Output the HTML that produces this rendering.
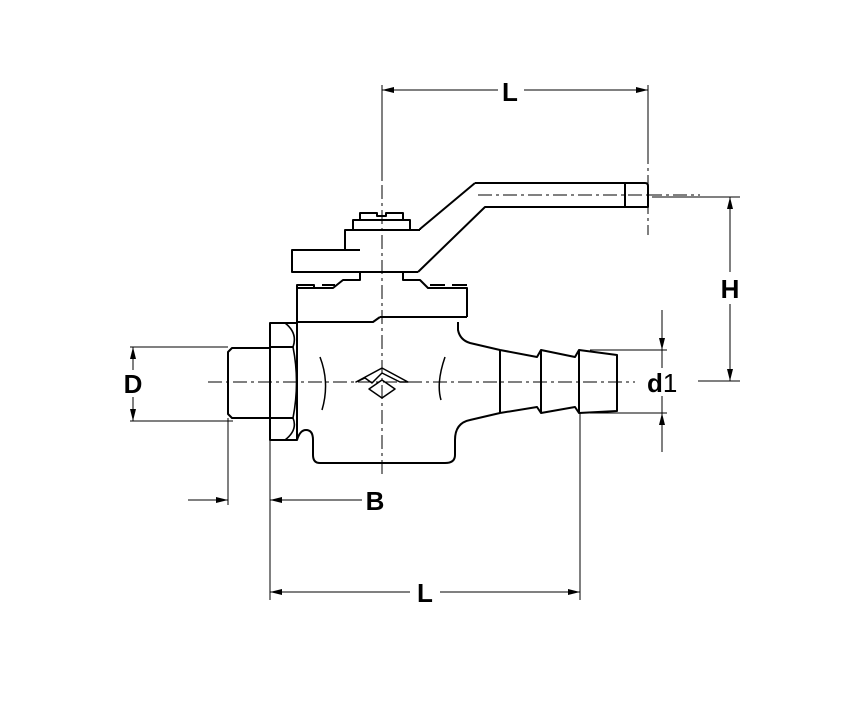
<!DOCTYPE html>
<html><head><style>
html,body{margin:0;padding:0;background:#fff;}
svg{display:block;}
text{font-family:"Liberation Sans",sans-serif;font-weight:bold;fill:#000;}
</style></head><body>
<svg width="850" height="702" viewBox="0 0 850 702" xmlns="http://www.w3.org/2000/svg">
<defs>
<marker id="a" markerWidth="12" markerHeight="6" refX="12" refY="3" orient="auto" markerUnits="userSpaceOnUse">
<path d="M0,0 L12,3 L0,6 Z" fill="#000"/></marker>
</defs>
<g fill="none" stroke="#000" stroke-width="2" stroke-linejoin="round">
<!-- handle -->
<path d="M475,183 L645,183 Q648,183 648,186 L648,207 L485,207 L418,272"/>
<path d="M475,183 L420,229 L420,230"/>
<line x1="625" y1="183" x2="625" y2="207"/>
<!-- stem top -->
<path d="M360,220 L360,213 L377,213 L377,216 L386,216 L386,213 L403,213 L403,220"/>
<path d="M353,230 L353,220 L410,220 L410,230"/>
<path d="M345,250 L345,230 L420,230"/>
<path d="M360,250 L292,250 L292,272 L418,272"/>
<path d="M360,272 L360,280 L343,280 L333,288 L297,288 L297,322"/>
<path d="M403,272 L403,280 L420,280 L428,288 L467,288 L467,317"/>
<path d="M297,288 L297,285 L314,285 L314,289 M322,285 L335,285 M430,285 L445,285 M452,285 L467,285"/>
<path d="M380,317 L467,317"/>
<!-- body -->
<path d="M297,322 L373,322 L380,317"/>
<path d="M458,322 L458,330 Q460,340 470,343 L500,350"/>
<path d="M500,413 L470,420 Q455,423 455,440 L455,455 Q455,463 445,463 L320,463 Q313,463 313,455 L313,440 Q313,430 306,430 Q300,430 297,440"/>
<line x1="297" y1="322" x2="297" y2="440"/>
<!-- hex -->
<rect x="270" y="323" width="27" height="117"/>
<path d="M270,347 L293,347 M270,418 L293,418"/>
<path d="M285,323 Q298,333 293,347 Q300,382 293,418 Q298,430 285,440" stroke-width="1.6"/>
<!-- left pipe -->
<path d="M270,348 L232,348 L228,352 L228,414 L232,418 L270,418"/>
<!-- barbs -->
<path d="M500,350 L500,413"/>
<path d="M500,350 L537,357 L541,350 L575,357 L579,350 L617,355 L617,411 L579,413 L575,407 L541,413 L537,407 L500,413"/>
<line x1="541" y1="350" x2="541" y2="413"/>
<line x1="579" y1="350" x2="579" y2="413"/>
<!-- arcs in body -->
<path d="M320,357 Q330,383 322,410" stroke-width="1.5"/>
<path d="M445,357 Q436,383 441,400" stroke-width="1.5"/>
<!-- logo -->
<path d="M356,382 L382,368 L408,382 L400,382 L382,373 L372,383 L365,378 Z" stroke-width="1.5"/>
<path d="M369,389 L382,380 L395,389 L382,398 Z" stroke-width="1.5"/>
</g>
<!-- centerlines -->
<g stroke="#000" stroke-width="1" stroke-dasharray="14,4,3,4" fill="none">
<line x1="382" y1="85" x2="382" y2="475"/>
<line x1="208" y1="382" x2="635" y2="382"/>
<line x1="478" y1="195" x2="648" y2="195"/>
<line x1="648" y1="150" x2="648" y2="235"/>
<line x1="648" y1="195" x2="700" y2="195"/>
</g>
<!-- dimension lines -->
<g stroke="#000" stroke-width="1" fill="none">
<line x1="382" y1="90" x2="382" y2="180"/>
<line x1="648" y1="85" x2="648" y2="150"/>
<line x1="498" y1="90" x2="382" y2="90" marker-end="url(#a)"/>
<line x1="524" y1="90" x2="648" y2="90" marker-end="url(#a)"/>
<line x1="652" y1="197" x2="740" y2="197"/>
<line x1="698" y1="381" x2="740" y2="381"/>
<line x1="730" y1="272" x2="730" y2="197" marker-end="url(#a)"/>
<line x1="730" y1="304" x2="730" y2="381" marker-end="url(#a)"/>
<line x1="590" y1="350" x2="667" y2="350"/>
<line x1="590" y1="413" x2="667" y2="413"/>
<line x1="662" y1="310" x2="662" y2="350" marker-end="url(#a)"/>
<line x1="662" y1="452" x2="662" y2="413" marker-end="url(#a)"/>
<line x1="662" y1="350" x2="662" y2="368"/>
<line x1="662" y1="396" x2="662" y2="413"/>
<line x1="130" y1="347" x2="228" y2="347"/>
<line x1="130" y1="421" x2="233" y2="421"/>
<line x1="133" y1="370" x2="133" y2="347" marker-end="url(#a)"/>
<line x1="133" y1="397" x2="133" y2="421" marker-end="url(#a)"/>
<line x1="228" y1="418" x2="228" y2="505"/>
<line x1="270" y1="440" x2="270" y2="600"/>
<line x1="580" y1="413" x2="580" y2="600"/>
<line x1="188" y1="500" x2="228" y2="500" marker-end="url(#a)"/>
<line x1="362" y1="500" x2="270" y2="500" marker-end="url(#a)"/>
<line x1="410" y1="592" x2="270" y2="592" marker-end="url(#a)"/>
<line x1="440" y1="592" x2="580" y2="592" marker-end="url(#a)"/>
</g>
<text x="510" y="101" font-size="26" text-anchor="middle">L</text>
<text x="730" y="298" font-size="26" text-anchor="middle">H</text>
<text x="647" y="392" font-size="26">d<tspan font-weight="normal">1</tspan></text>
<text x="133" y="393" font-size="26" text-anchor="middle">D</text>
<text x="375" y="510" font-size="26" text-anchor="middle">B</text>
<text x="425" y="602" font-size="26" text-anchor="middle">L</text>
</svg>
</body></html>
